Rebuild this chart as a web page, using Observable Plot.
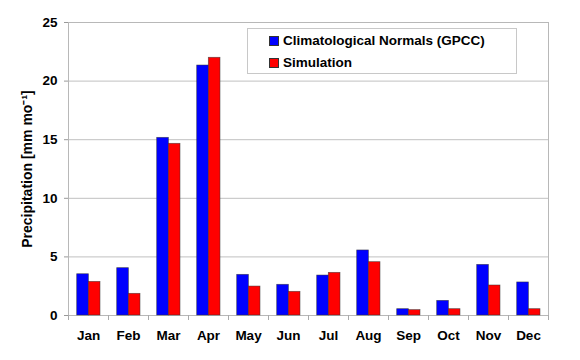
<!DOCTYPE html>
<html><head><meta charset="utf-8">
<script src="https://cdn.jsdelivr.net/npm/d3@7"></script>
<script src="https://cdn.jsdelivr.net/npm/@observablehq/plot@0.6"></script>
<style>
body{margin:0;background:#fff;font-family:"Liberation Sans",Arial,sans-serif;}
#wrap{position:relative;width:580px;height:360px;}
#legend{position:absolute;left:247px;top:28px;width:270px;height:46px;border:1px solid #c8c8c8;background:#fff;box-sizing:border-box;font-weight:bold;font-size:13.5px;color:#000;}
.item{position:absolute;left:21px;height:14px;line-height:14px;white-space:nowrap;}
.sw{display:inline-block;width:10px;height:10px;border:1px solid #333;box-sizing:border-box;vertical-align:-1px;margin-right:4px;}
</style></head>
<body>
<div id="wrap"></div>
<script>
const months = ["Jan","Feb","Mar","Apr","May","Jun","Jul","Aug","Sep","Oct","Nov","Dec"];
const gpcc = [3.52,4.04,15.16,21.33,3.47,2.62,3.41,5.55,0.54,1.25,4.32,2.82];
const sim  = [2.87,1.85,14.65,21.99,2.47,2.02,3.64,4.55,0.46,0.54,2.56,0.54];
const yTicks = [0,5,10,15,20,25];
const seriesNames = ["Climatological Normals (GPCC)","Simulation"];
const seriesColors = ["#0000ff","#ff0000"];
const yTitle = "Precipitation [mm mo⁻¹]";

const gData = months.map((m,i)=>({month:m,value:gpcc[i]}));
const sData = months.map((m,i)=>({month:m,value:sim[i]}));

const chart = Plot.plot({
  width:580, height:360,
  marginLeft:68, marginRight:32, marginTop:22, marginBottom:45,
  style:{fontFamily:'"Liberation Sans",Arial,sans-serif', fontSize:"13.5px", fontWeight:"bold", color:"#000", background:"#fff"},
  x:{domain:months, padding:0, label:null},
  y:{domain:[0,25], label:null},
  marks:[
    Plot.gridY(yTicks.slice(1),{stroke:"#c0c0c0", strokeOpacity:1}),
    Plot.frame({stroke:"#b8b8b8"}),
    Plot.barY(gData,{x:"month", y:"value", fill:seriesColors[0], stroke:"#333", strokeWidth:0.7, strokeOpacity:0.7, insetLeft:8.7, insetRight:19.6}),
    Plot.barY(sData,{x:"month", y:"value", fill:seriesColors[1], stroke:"#333", strokeWidth:0.7, strokeOpacity:0.7, insetLeft:20.3, insetRight:8}),
    Plot.axisY({ticks:yTicks, tickSize:4, tickPadding:7, stroke:"#999", label:null}),
    Plot.axisX({tickSize:0, tickPadding:15, label:null}),
    Plot.axisX({tickSize:5, dx:-20, tickFormat:()=>"", stroke:"#aaa", label:null}),
    Plot.axisX(["Dec"],{tickSize:5, dx:20, tickFormat:()=>"", stroke:"#aaa", label:null}),
    Plot.text([yTitle],{frameAnchor:"left", dx:-41, rotate:-90, textAnchor:"middle", fontSize:14, fontWeight:"bold", fill:"#000"})
  ]
});
const wrap = document.getElementById("wrap");
wrap.appendChild(chart);
const leg = document.createElement("div");
leg.id = "legend";
seriesNames.forEach((n,i)=>{
  const it = document.createElement("div");
  it.className = "item";
  it.style.top = (5 + i*22) + "px";
  const sw = document.createElement("span");
  sw.className = "sw"; sw.style.background = seriesColors[i];
  it.appendChild(sw);
  it.appendChild(document.createTextNode(n));
  leg.appendChild(it);
});
wrap.appendChild(leg);
</script>
</body></html>
